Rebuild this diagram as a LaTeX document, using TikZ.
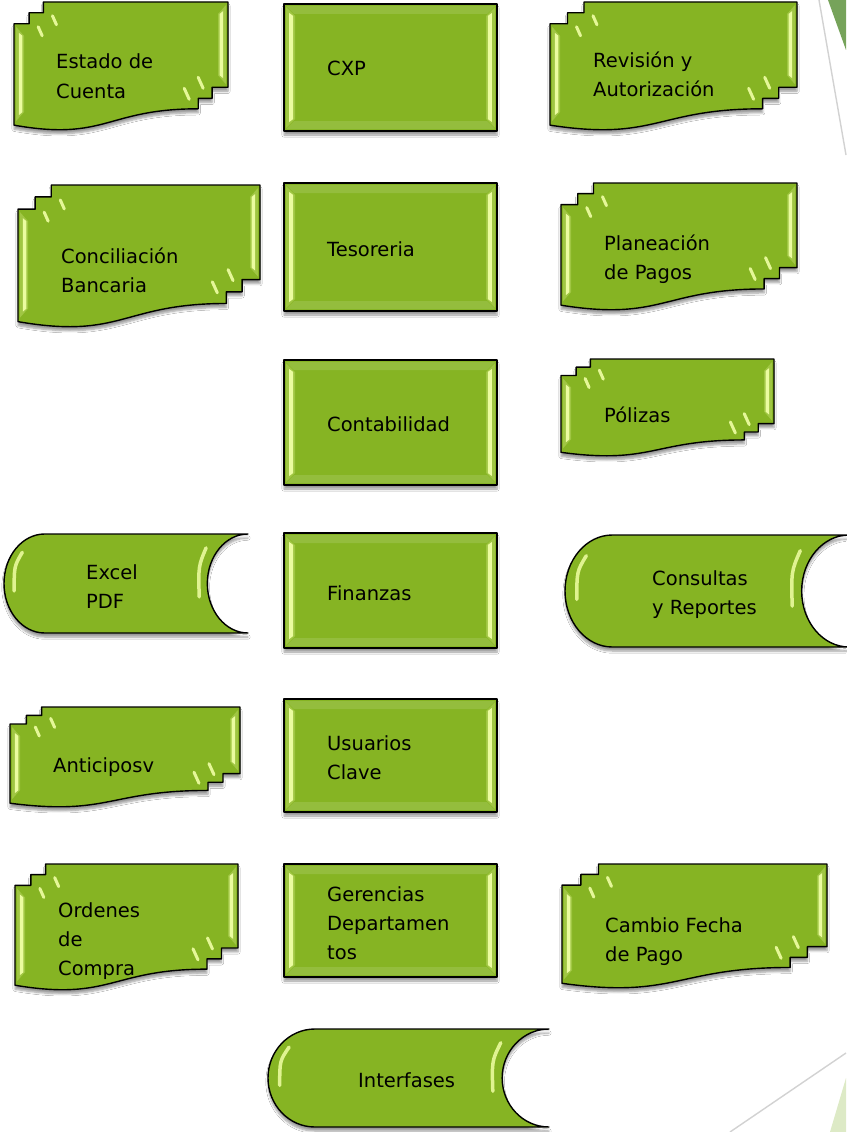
\documentclass[tikz,border=0pt]{standalone}
\usepackage{fontspec}
\setmainfont{DejaVu Sans}
\usetikzlibrary{shadows.blur,calc}
\definecolor{base}{RGB}{134,180,35}
\definecolor{hl}{RGB}{240,255,165}
\definecolor{deco}{RGB}{118,163,90}
\definecolor{decolight}{RGB}{221,234,198}
\definecolor{decoline}{RGB}{210,210,210}
\tikzset{
  shapebox/.style={fill=base, draw=black, line width=1.4pt, line join=round,
    blur shadow={shadow xshift=0pt, shadow yshift=-4pt, shadow blur steps=6, shadow opacity=40}},
  bevelface/.style={fill=base!55!hl, opacity=0.55},
  bevelstripe/.style={fill=hl, opacity=0.95},
  toprim/.style={fill=white, opacity=0.12},
  glint/.style={draw=hl, line width=3pt, line cap=round, opacity=0.9},
  hlarc/.style={draw=hl, line width=3.5pt, line cap=round, opacity=0.85},
  lbl/.style={anchor=base west, inner sep=0pt, font=\fontsize{19.5}{29}\selectfont},
  decoedge/.style={draw=decoline, line width=1.4pt},
}
% vertical bevel bar: x outer, x inner, y top, y bottom
\newcommand\vbar[4]{%
  \fill[bevelface] (#1,#3) -- (#2,#3+9) -- (#2,#4-9) -- (#1,#4) -- cycle;
  \fill[bevelstripe] ($(#1,#3)!0.35!(#2,#3)+(0,6)$) -- ($(#1,#3)!0.8!(#2,#3)+(0,9)$)
     -- ($(#1,#4)!0.8!(#2,#4)+(0,-9)$) -- ($(#1,#4)!0.35!(#2,#4)+(0,-6)$) -- cycle;
}
\newcommand\rbox[4]{%
  \path[shapebox] (#1,#2) rectangle (#3,#4);
  \fill[toprim] (#1+2,#2+2) -- (#3-2,#2+2) -- (#3-10,#2+10) -- (#1+10,#2+10) -- cycle;
  \fill[toprim] (#1+2,#4-2) -- (#3-2,#4-2) -- (#3-10,#4-10) -- (#1+10,#4-10) -- cycle;
  \vbar{#1+2}{#1+11}{#2+3}{#4-3}
  \vbar{#3-2}{#3-11}{#2+3}{#4-3}
}
\newcommand\mdoc[4]{%
  \pgfmathsetmacro\Wd{#3-#1}\pgfmathsetmacro\Hd{#4-#2}%
  \pgfmathsetmacro\xa{#1+0.07093*\Wd}%
  \pgfmathsetmacro\xb{#1+0.13759*\Wd}%
  \pgfmathsetmacro\xc{#1+0.86088*\Wd}%
  \pgfmathsetmacro\xd{#1+0.92593*\Wd}%
  \pgfmathsetmacro\xm{#1+0.43046*\Wd}%
  \pgfmathsetmacro\ya{#2+0.08403*\Hd}%
  \pgfmathsetmacro\yb{#2+0.17014*\Hd}%
  \pgfmathsetmacro\yc{#2+0.66630*\Hd}%
  \pgfmathsetmacro\yd{#2+0.75241*\Hd}%
  \pgfmathsetmacro\ye{#2+0.83435*\Hd}%
  \pgfmathsetmacro\yf{#2+0.96213*\Hd}%
  \pgfmathsetmacro\yg{#2+1.08991*\Hd}%
  \path[shapebox] (#1,\yf) .. controls (\xm,\yg) and (\xm,\ye) .. (\xc,\ye)
    -- (\xc,\yd) -- (\xd,\yd) -- (\xd,\yc) -- (#3,\yc) -- (#3,#2) -- (\xb,#2)
    -- (\xb,\ya) -- (\xa,\ya) -- (\xa,\yb) -- (#1,\yb) -- cycle;
  \vbar{#1+2}{#1+10}{\yb+3}{\yf-4}
  \vbar{#3-2}{#3-10}{#2+3}{\yc-3}
  \draw[glint] (\xa+9,\yb+3) -- (\xa+13,\yb+12);
  \draw[glint] (\xb+9,\ya+3) -- (\xb+13,\ya+12);
  \draw[glint] (\xc-14,\yd-10) -- (\xc-9,\yd+1);
  \draw[glint] (\xd-14,\yc-10) -- (\xd-9,\yc+1);
}
\newcommand\sdata[4]{%
  \pgfmathsetmacro\rx{(#3-#1)/6}\pgfmathsetmacro\ry{(#4-#2)/2}%
  \pgfmathsetmacro\yc{(#2+#4)/2}%
  \path[shapebox] (#1+\rx,#2) -- (#3,#2)
    arc[start angle=270, end angle=90, x radius=\rx, y radius=\ry]
    -- (#1+\rx,#4)
    arc[start angle=90, end angle=270, x radius=\rx, y radius=\ry] -- cycle;
  \draw[hlarc] (#1+0.45*\rx,\yc-0.63*\ry) .. controls (#1+0.25*\rx,\yc-0.35*\ry) .. (#1+0.25*\rx,\yc+0.15*\ry);
  \draw[hlarc] (#3-1.03*\rx,\yc-0.72*\ry) .. controls (#3-1.22*\rx,\yc-0.35*\ry) .. (#3-1.2*\rx,\yc+0.27*\ry);
}
\begin{document}
\begin{tikzpicture}[x=1pt,y=-1pt]
\useasboundingbox (0,0) rectangle (846,1132);
\fill[white] (0,0) rectangle (846,1132);
% decorations
\fill[deco] (828,0) -- (846,0) -- (846,50) -- cycle;
\draw[decoedge] (819,0) -- (846,155);
\fill[decolight] (830,1132) -- (846,1132) -- (846,1078) -- cycle;
\draw[decoedge] (730,1132) -- (846,1053);
% row 1
\mdoc{14}{2}{228}{130}
\node[lbl] (estado) at (56,69) {\begin{tabular}[t]{@{}l@{}}Estado de\\Cuenta\end{tabular}};
\rbox{284}{4}{497}{131}
\node[lbl] (cxp) at (327,76) {CXP};
\mdoc{550}{2}{797}{130}
\node[lbl] (revision) at (593,67) {\begin{tabular}[t]{@{}l@{}}Revisión y\\Autorización\end{tabular}};
% row 2
\mdoc{18}{185}{260}{327}
\node[lbl] (conciliacion) at (61,263) {\begin{tabular}[t]{@{}l@{}}Conciliación\\Bancaria\end{tabular}};
\rbox{284}{183}{497}{311}
\node[lbl] (tesoreria) at (327,256) {Tesoreria};
\mdoc{561}{183}{797}{310}
\node[lbl] (planeacion) at (604,250) {\begin{tabular}[t]{@{}l@{}}Planeación\\de Pagos\end{tabular}};
% row 3
\rbox{284}{360}{497}{485}
\node[lbl] (contabilidad) at (327,431) {Contabilidad};
\mdoc{561}{359}{774}{456}
\node[lbl] (polizas) at (604,422) {Pólizas};
% row 4
\sdata{4}{534}{248}{633}
\node[lbl] (excel) at (86,579) {\begin{tabular}[t]{@{}l@{}}Excel\\PDF\end{tabular}};
\rbox{284}{533}{497}{648}
\node[lbl] (finanzas) at (327,600) {Finanzas};
\sdata{565}{535}{849}{647}
\node[lbl] (consultas) at (652,585) {\begin{tabular}[t]{@{}l@{}}Consultas\\y Reportes\end{tabular}};
% row 5
\mdoc{10}{707}{240}{807}
\node[lbl] (anticipos) at (53,772) {Anticiposv};
\rbox{284}{699}{497}{812}
\node[lbl] (usuarios) at (327,750) {\begin{tabular}[t]{@{}l@{}}Usuarios\\Clave\end{tabular}};
% row 6
\mdoc{15}{864}{238}{990}
\node[lbl] (ordenes) at (58,917) {\begin{tabular}[t]{@{}l@{}}Ordenes\\de\\Compra\end{tabular}};
\rbox{284}{864}{497}{977}
\node[lbl] (gerencias) at (327,901) {\begin{tabular}[t]{@{}l@{}}Gerencias\\Departamen\\tos\end{tabular}};
\mdoc{562}{864}{827}{988}
\node[lbl] (cambio) at (605,932) {\begin{tabular}[t]{@{}l@{}}Cambio Fecha\\de Pago\end{tabular}};
% row 7
\sdata{268}{1029}{549}{1127}
\node[lbl] (interfases) at (358,1087) {Interfases};
\end{tikzpicture}
\end{document}
